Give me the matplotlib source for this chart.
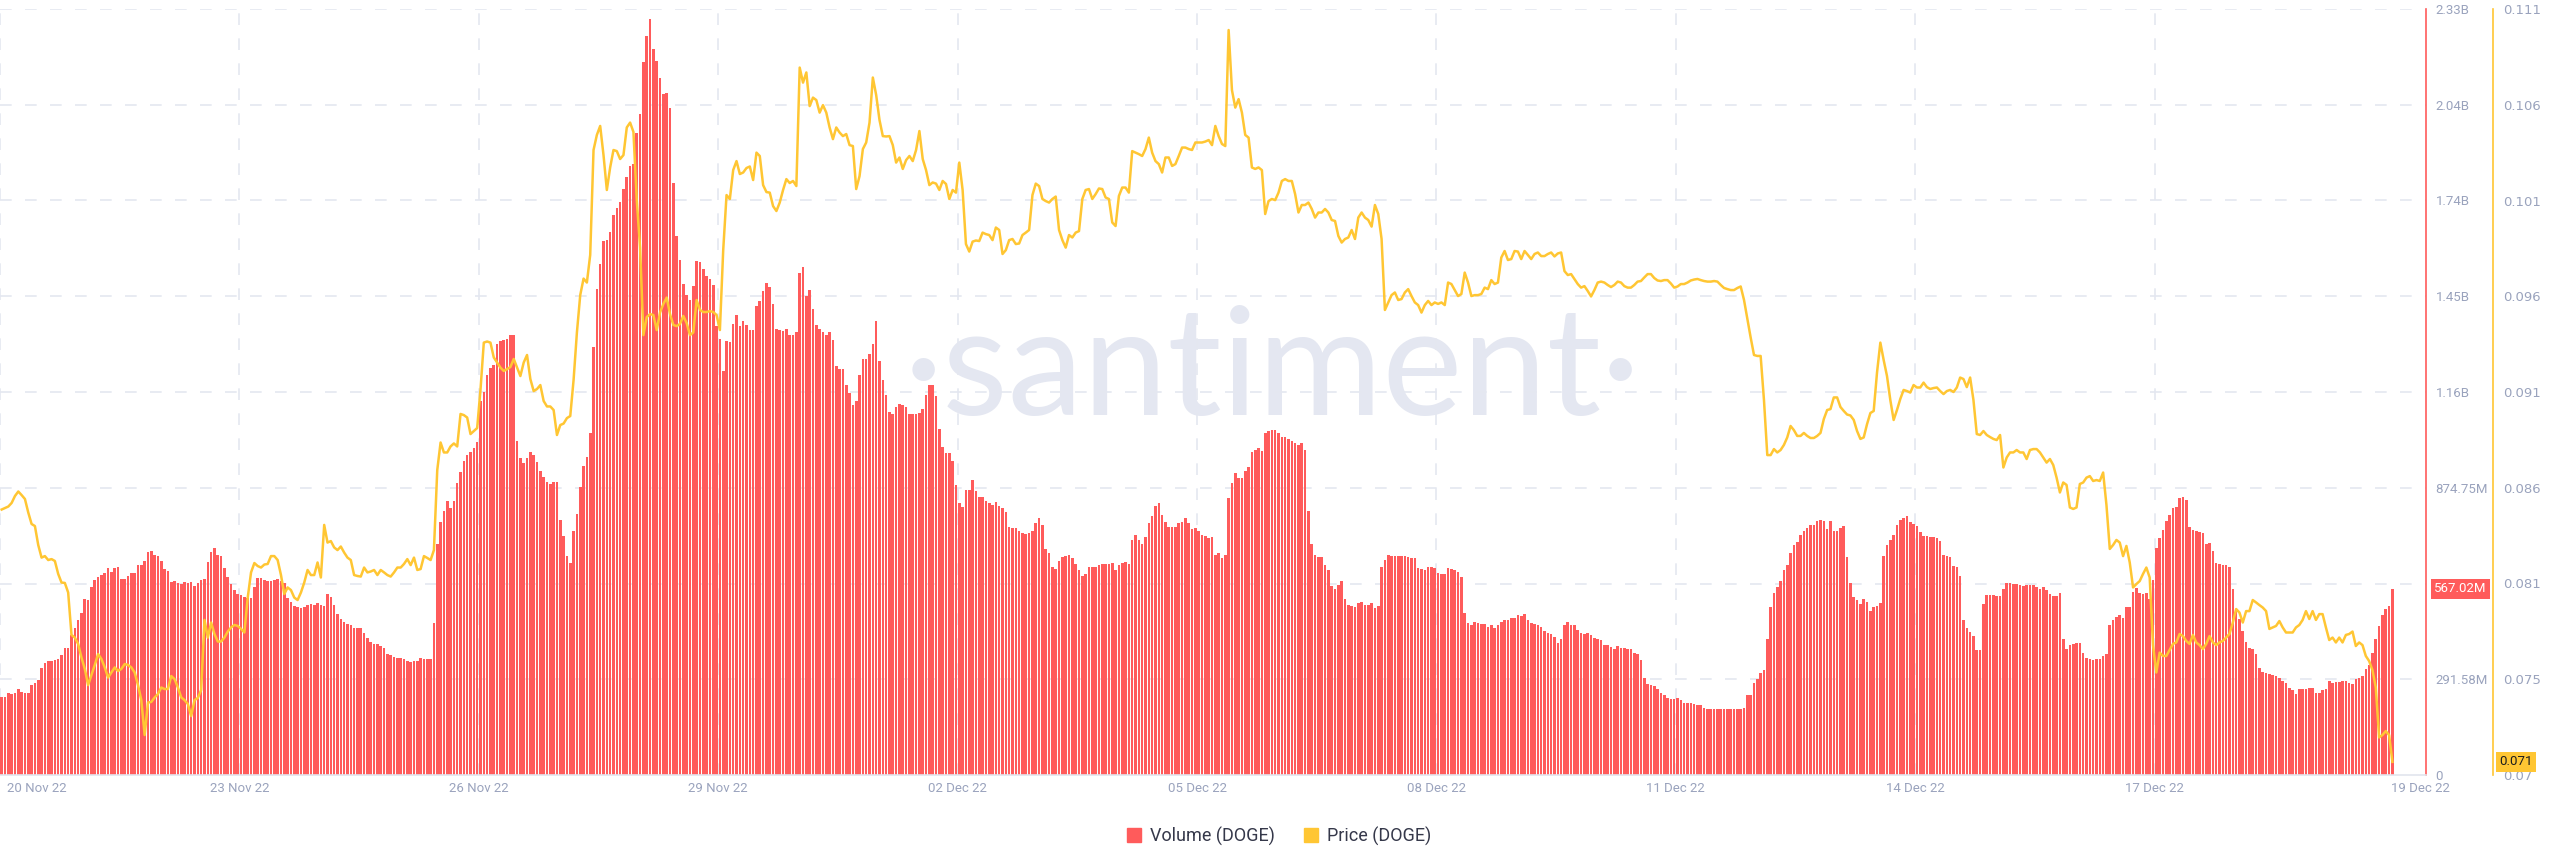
import matplotlib
matplotlib.use('Agg')

import matplotlib.pyplot as plt
import matplotlib.transforms as mtransforms
from matplotlib.patches import Patch

# hourly DOGE volume (millions) from 20 Nov 22 00:00
volume_m = [
    238, 238, 249, 246, 251, 261, 254, 251, 251, 273,
    281, 289, 327, 342, 346, 346, 349, 352, 364, 387,
    387, 425, 448, 471, 494, 535, 532, 574, 595, 604,
    610, 615, 630, 618, 630, 633, 597, 597, 607, 615,
    615, 641, 638, 653, 680, 683, 671, 668, 653, 626,
    620, 589, 592, 585, 582, 588, 585, 588, 577, 585,
    595, 597, 650, 680, 691, 671, 668, 630, 604, 582,
    562, 551, 547, 542, 539, 539, 573, 600, 600, 595,
    592, 592, 595, 597, 592, 585, 539, 528, 516, 512,
    509, 512, 519, 521, 519, 524, 519, 516, 551, 542,
    519, 489, 474, 466, 459, 456, 448, 448, 448, 433,
    418, 405, 398, 398, 392, 387, 369, 364, 360, 357,
    357, 352, 346, 345, 346, 346, 357, 352, 352, 352,
    463, 702, 770, 805, 835, 812, 835, 888, 923, 957,
    975, 983, 995, 1014, 1139, 1165, 1218, 1238, 1248, 1314,
    1321, 1324, 1329, 1339, 1339, 1018, 964, 949, 964, 984,
    975, 954, 926, 907, 891, 887, 893, 893, 778, 729,
    668, 645, 744, 794, 878, 942, 967, 1040, 1303, 1481,
    1557, 1625, 1628, 1655, 1704, 1728, 1746, 1784, 1822, 1856,
    1860, 1956, 2012, 2172, 2251, 2301, 2210, 2175, 2123, 2073,
    2077, 2032, 1804, 1640, 1567, 1496, 1461, 1446, 1488, 1564,
    1561, 1541, 1519, 1511, 1491, 1367, 1329, 1230, 1321, 1318,
    1374, 1400, 1367, 1382, 1370, 1355, 1355, 1428, 1443, 1473,
    1499, 1485, 1435, 1358, 1355, 1352, 1359, 1339, 1339, 1349,
    1529, 1546, 1458, 1476, 1420, 1370, 1359, 1349, 1339, 1349,
    1324, 1245, 1235, 1235, 1188, 1162, 1127, 1139, 1218, 1267,
    1267, 1283, 1314, 1382, 1260, 1203, 1157, 1106, 1098, 1121,
    1131, 1127, 1121, 1098, 1098, 1098, 1101, 1116, 1157, 1188,
    1188, 1154, 1055, 999, 980, 980, 957, 884, 828, 817,
    869, 869, 899, 866, 846, 846, 835, 828, 823, 831,
    820, 812, 800, 756, 752, 752, 744, 737, 734, 737,
    744, 767, 782, 762, 688, 676, 633, 627, 653, 664,
    668, 671, 661, 642, 623, 607, 612, 633, 633, 633,
    638, 642, 642, 642, 645, 623, 638, 645, 650, 642,
    717, 732, 717, 702, 726, 767, 790, 820, 828, 793,
    771, 756, 756, 756, 767, 770, 782, 767, 749, 752,
    744,
    732, 729, 721, 724, 671, 676, 661, 671, 843, 888,
    919, 904, 904, 926, 937, 984, 990, 995, 987, 1040,
    1048, 1051, 1052, 1040, 1028, 1030, 1022, 1018, 1010, 1005,
    1010, 990, 805, 702, 671, 664, 665, 638, 623, 577,
    565, 580, 592, 535, 519, 516, 513, 524, 527, 519,
    519, 524, 509, 516, 633, 656, 671, 668, 668, 668,
    668, 668, 665, 661, 661, 630, 626, 623, 633, 633,
    630, 615, 611, 612, 630, 627, 623, 618, 603, 494,
    463, 456, 466, 463, 459, 459, 451, 456, 448, 456,
    466, 471, 471, 478, 478, 486, 483, 489, 471, 463,
    459, 456, 451, 437, 433, 428, 421, 402, 413, 456,
    466, 456, 456, 443, 433, 428, 433, 425, 418, 413,
    410, 395, 395, 390, 384, 392, 387, 387, 383, 383,
    372, 368, 349, 296, 278, 273, 270, 261, 251, 243,
    235, 231, 232, 235, 228, 220, 220, 220, 216, 213,
    213, 205, 202, 202, 202, 200, 200, 202, 202, 200,
    202, 200, 200, 205, 243, 243, 281, 292, 311, 319,
    413, 513, 554, 574, 592, 623, 641, 676, 699, 709,
    732, 744, 752, 762, 762, 774, 778, 774, 749, 774,
    744, 744, 752, 759, 665, 585, 542, 532, 521, 535,
    527, 498, 513, 516, 524, 668, 699, 717, 732, 762,
    778, 782, 790, 771, 764, 759, 741, 729, 729, 726,
    724, 721, 714, 671, 668, 665, 635, 633, 607, 471,
    448, 436, 422, 380, 380, 521, 547, 547, 547, 544,
    544, 565, 585, 585, 582, 582, 580, 577, 580, 580,
    580, 574, 565, 574, 562, 551, 544, 544, 554, 413,
    383, 395, 399, 402, 402, 372, 357, 352, 349, 352,
    352, 361, 369, 456, 471, 481, 486, 478, 512, 513,
    557, 570, 554, 551, 554, 535, 595, 691, 721, 747,
    775, 793, 813, 817, 843, 846, 838, 756, 747, 744,
    741, 737, 702, 706, 683, 645, 642, 638, 638, 633,
    565, 501, 474, 437, 406, 387, 383, 368, 327, 314,
    311, 307, 304, 301, 296, 286, 281, 266, 258, 248,
    261, 263, 263, 266, 266, 251, 251, 258, 263, 286,
    281, 284, 284, 286, 286, 281, 276, 292, 296, 301,
    322, 334, 372, 413, 453, 486, 504, 516, 567,
]

# hourly DOGE price (USD)
price = [
    0.08444, 0.08452, 0.08460, 0.08479, 0.08516, 0.08540, 0.08521, 0.08500, 0.08428, 0.08367,
    0.08356, 0.08255, 0.08188, 0.08196, 0.08175, 0.08180, 0.08170, 0.08101, 0.08055, 0.08053,
    0.08002, 0.07776, 0.07762, 0.07728, 0.07656, 0.07595, 0.07509, 0.07563, 0.07616, 0.07674,
    0.07648, 0.07603, 0.07549, 0.07576, 0.07603, 0.07584, 0.07595, 0.07621, 0.07616, 0.07603,
    0.07576, 0.07509, 0.07429, 0.07243, 0.07416, 0.07419, 0.07443, 0.07461, 0.07496, 0.07488,
    0.07488, 0.07557, 0.07541, 0.07496, 0.07443, 0.07429, 0.07408, 0.07344, 0.07429, 0.07440,
    0.07483, 0.07856, 0.07762, 0.07842, 0.07781, 0.07741, 0.07741, 0.07762, 0.07794, 0.07816,
    0.07829, 0.07824, 0.07808, 0.07789, 0.07975, 0.08109, 0.08159, 0.08143, 0.08135, 0.08151,
    0.08154, 0.08196, 0.08196, 0.08175, 0.08095, 0.07994, 0.08029, 0.08015, 0.07975, 0.07962,
    0.08002, 0.08055, 0.08122, 0.08095, 0.08095, 0.08162, 0.08082, 0.08362, 0.08268, 0.08276,
    0.08242, 0.08228, 0.08247, 0.08215, 0.08188, 0.08175, 0.08095, 0.08090, 0.08087, 0.08135,
    0.08109, 0.08114, 0.08122, 0.08095, 0.08122, 0.08109, 0.08095, 0.08087, 0.08109, 0.08135,
    0.08135, 0.08154, 0.08180, 0.08148, 0.08188, 0.08122, 0.08127, 0.08196, 0.08186, 0.08175,
    0.08228, 0.08654, 0.08801, 0.08748, 0.08748, 0.08780, 0.08796, 0.08780, 0.08953, 0.08947,
    0.08934, 0.08846, 0.08862, 0.08878, 0.09081, 0.09333, 0.09339, 0.09333, 0.09254, 0.09227,
    0.09200, 0.09182, 0.09192, 0.09203, 0.09246, 0.09200, 0.09155, 0.09227, 0.09267, 0.09139,
    0.09075, 0.09086, 0.09107, 0.09022, 0.08993, 0.08993, 0.08974, 0.08841, 0.08894, 0.08902,
    0.08931, 0.08942, 0.09134, 0.09387, 0.09586, 0.09674, 0.09653, 0.09800, 0.10359, 0.10439,
    0.10487, 0.10332, 0.10146, 0.10266, 0.10359, 0.10353, 0.10311, 0.10332, 0.10479, 0.10505,
    0.10455, 0.10092, 0.09839, 0.09373, 0.09469, 0.09485, 0.09480, 0.09400, 0.09493, 0.09539,
    0.09573, 0.09485, 0.09427, 0.09421, 0.09432, 0.09475, 0.09437, 0.09373, 0.09387, 0.09560,
    0.09507, 0.09496, 0.09496, 0.09501, 0.09496, 0.09480, 0.09400, 0.09826, 0.10119, 0.10098,
    0.10252, 0.10300, 0.10231, 0.10239, 0.10263, 0.10271, 0.10199, 0.10345, 0.10327, 0.10172,
    0.10135, 0.10132, 0.10060, 0.10034, 0.10079, 0.10146, 0.10204, 0.10183, 0.10194, 0.10167,
    0.10798, 0.10718, 0.10772, 0.10593, 0.10638, 0.10625, 0.10558, 0.10598, 0.10558, 0.10479,
    0.10417, 0.10479, 0.10452, 0.10433, 0.10444, 0.10385, 0.10380, 0.10151, 0.10220, 0.10364,
    0.10399, 0.10505, 0.10745, 0.10652, 0.10519, 0.10433, 0.10431, 0.10433, 0.10385, 0.10292,
    0.10319, 0.10258, 0.10305, 0.10327, 0.10300, 0.10359, 0.10460, 0.10311, 0.10252, 0.10172,
    0.10186, 0.10180, 0.10146, 0.10194, 0.10178, 0.10098, 0.10146, 0.10132, 0.10292, 0.10146,
    0.09858, 0.09818, 0.09871, 0.09877, 0.09874, 0.09919, 0.09911, 0.09906, 0.09879, 0.09946,
    0.09933, 0.09805, 0.09826, 0.09879, 0.09885, 0.09858, 0.09861, 0.09906, 0.09919, 0.09933,
    0.10119, 0.10180, 0.10167, 0.10098, 0.10087, 0.10079, 0.10098, 0.10111, 0.09933, 0.09879,
    0.09839, 0.09906, 0.09893, 0.09919, 0.09927, 0.10098, 0.10146, 0.10151, 0.10098, 0.10124,
    0.10154, 0.10151, 0.10106, 0.10098, 0.09973, 0.09954, 0.10114, 0.10159, 0.10159, 0.10132,
    0.10353, 0.10345, 0.10337, 0.10327, 0.10364, 0.10425, 0.10345, 0.10300, 0.10284, 0.10239,
    0.10319, 0.10319, 0.10274, 0.10284, 0.10327, 0.10372, 0.10372, 0.10364, 0.10359, 0.10399,
    0.10399,
    0.10399, 0.10404, 0.10412, 0.10385, 0.10487, 0.10433, 0.10391, 0.10380, 0.10998, 0.10678,
    0.10585, 0.10630, 0.10558, 0.10439, 0.10425, 0.10266, 0.10258, 0.10266, 0.10252, 0.10018,
    0.10087, 0.10098, 0.10092, 0.10132, 0.10194, 0.10204, 0.10194, 0.10194, 0.10124, 0.10026,
    0.10066, 0.10066, 0.10079, 0.10045, 0.09999, 0.10026, 0.10026, 0.10045, 0.10026, 0.09986,
    0.09981, 0.09901, 0.09866, 0.09885, 0.09893, 0.09933, 0.09885, 0.09999, 0.10026, 0.09999,
    0.09986, 0.09951, 0.10066, 0.10018, 0.09885, 0.09507, 0.09547, 0.09586, 0.09600, 0.09560,
    0.09565, 0.09600, 0.09618, 0.09581, 0.09547, 0.09533, 0.09493, 0.09533, 0.09555, 0.09533,
    0.09547, 0.09539, 0.09547, 0.09533, 0.09653, 0.09645, 0.09613, 0.09581, 0.09592, 0.09706,
    0.09653, 0.09581, 0.09586, 0.09586, 0.09592, 0.09626, 0.09618, 0.09666, 0.09645, 0.09653,
    0.09786, 0.09821, 0.09773, 0.09778, 0.09821, 0.09818, 0.09778, 0.09821, 0.09800, 0.09778,
    0.09805, 0.09813, 0.09794, 0.09794, 0.09805, 0.09813, 0.09792, 0.09808, 0.09813, 0.09714,
    0.09693, 0.09698, 0.09672, 0.09645, 0.09626, 0.09634, 0.09608, 0.09579, 0.09613, 0.09653,
    0.09658, 0.09653, 0.09640, 0.09629, 0.09640, 0.09658, 0.09653, 0.09634, 0.09626, 0.09626,
    0.09640, 0.09658, 0.09661, 0.09680, 0.09698, 0.09698, 0.09677, 0.09664, 0.09661, 0.09666,
    0.09666, 0.09648, 0.09626, 0.09632, 0.09645, 0.09645, 0.09653, 0.09664, 0.09669, 0.09672,
    0.09666, 0.09661, 0.09658, 0.09658, 0.09661, 0.09658, 0.09640, 0.09624, 0.09618, 0.09613,
    0.09613, 0.09624, 0.09632, 0.09560, 0.09459, 0.09360, 0.09267, 0.09262, 0.09262, 0.09027,
    0.08734, 0.08734, 0.08766, 0.08748, 0.08761, 0.08788, 0.08828, 0.08889, 0.08867, 0.08836,
    0.08836, 0.08852, 0.08836, 0.08825, 0.08825, 0.08836, 0.08852, 0.08926, 0.08974, 0.08979,
    0.09041, 0.09041, 0.08990, 0.08969, 0.08950, 0.08945, 0.08921, 0.08862, 0.08820, 0.08828,
    0.08899, 0.08958, 0.08969, 0.09174, 0.09333, 0.09240, 0.09155, 0.09027, 0.08921, 0.08974,
    0.09033, 0.09081, 0.09075, 0.09067, 0.09107, 0.09094, 0.09094, 0.09120, 0.09096, 0.09086,
    0.09091, 0.09094, 0.09075, 0.09059, 0.09075, 0.09081, 0.09070, 0.09094, 0.09147, 0.09139,
    0.09096, 0.09147, 0.09027, 0.08846, 0.08841, 0.08862, 0.08841, 0.08830, 0.08820, 0.08814,
    0.08841, 0.08668, 0.08721, 0.08748, 0.08748, 0.08761, 0.08748, 0.08748, 0.08713, 0.08761,
    0.08766, 0.08766, 0.08748, 0.08721, 0.08694, 0.08713, 0.08681, 0.08614, 0.08535, 0.08588,
    0.08575, 0.08455, 0.08447, 0.08455, 0.08580, 0.08588, 0.08614, 0.08622, 0.08596, 0.08601,
    0.08596, 0.08641, 0.08468, 0.08234, 0.08255, 0.08282, 0.08268, 0.08196, 0.08250, 0.08162,
    0.08029, 0.08047, 0.08063, 0.08101, 0.08135, 0.08082, 0.07722, 0.07576, 0.07682, 0.07664,
    0.07664, 0.07696, 0.07728, 0.07736, 0.07781, 0.07770, 0.07744, 0.07728, 0.07776, 0.07736,
    0.07722, 0.07701, 0.07728, 0.07770, 0.07736, 0.07722, 0.07736, 0.07744, 0.07762, 0.07781,
    0.07842, 0.07914, 0.07895, 0.07842, 0.07903, 0.07903, 0.07962, 0.07949, 0.07935, 0.07922,
    0.07903, 0.07808, 0.07816, 0.07824, 0.07850, 0.07816, 0.07789, 0.07789, 0.07789, 0.07816,
    0.07829, 0.07856, 0.07903, 0.07861, 0.07903, 0.07856, 0.07887, 0.07887, 0.07816, 0.07749,
    0.07762, 0.07736, 0.07762, 0.07736, 0.07776, 0.07781, 0.07794, 0.07717, 0.07736, 0.07722,
    0.07664, 0.07637, 0.07589, 0.07496, 0.07230, 0.07243, 0.07264, 0.07243, 0.07100,
]

date_labels = ['20 Nov 22', '23 Nov 22', '26 Nov 22', '29 Nov 22', '02 Dec 22', '05 Dec 22',
               '08 Dec 22', '11 Dec 22', '14 Dec 22', '17 Dec 22', '19 Dec 22']
vol_ticks = [0, 291.58, 583.16, 874.75, 1166.33, 1457.91, 1749.49, 2041.07, 2332.65]
vol_labels = ['0', '291.58M', '', '874.75M', '1.16B', '1.45B', '1.74B', '2.04B', '2.33B']
price_ticks = [0.0703, 0.0754, 0.0805, 0.0856, 0.0907, 0.0958, 0.1009, 0.1060, 0.1111]
price_labels = ['0.07', '0.075', '0.081', '0.086', '0.091', '0.096', '0.101', '0.106', '0.111']
last_volume = 567.02
last_price = 0.071

RED = '#ff5b5b'
YELLOW = '#ffc633'
GRID = '#e4e7f0'
LABEL = '#9aa3bd'
FONT = 'Roboto'

W, H = 2560, 867
fig = plt.figure(figsize=(W / 100, H / 100), dpi=100)
fig.patch.set_facecolor('white')

# watermark behind everything
fig.text(1272 / W, (H - 372) / H, '\u00b7santiment\u00b7', ha='center', va='center',
         fontsize=109, color='#e4e7f1', family='Lato', weight='normal', zorder=-5)

ax = fig.add_axes([0, (H - 775) / H, 2426 / W, 766 / H])
ax.set_facecolor('none')

hours = [i + 0.5 for i in range(len(volume_m))]
ax.bar(hours, volume_m, width=0.78, color=RED, linewidth=0, zorder=2)
ax.set_xlim(0, 729.6)
ax.set_ylim(0, vol_ticks[-1])

# dashed grid
for v in vol_ticks[1:]:
    ax.axhline(v, color=GRID, lw=1.2, ls=(0, (7, 8)), zorder=0)
for d in range(0, 649, 72):
    ax.axvline(d, color=GRID, lw=1.2, ls=(0, (7, 8)), zorder=0)

# x labels: first hugs the left edge, last sits at the right end
xt = [2.0] + list(range(72, 649, 72)) + [727.8]
ax.set_xticks(xt)
ax.set_xticklabels(date_labels, fontsize=9.5, color=LABEL, family=FONT)
ax.get_xticklabels()[0].set_ha('left')
ax.tick_params(axis='x', length=0, pad=5)

for s in ['left', 'top']:
    ax.spines[s].set_visible(False)
ax.spines['right'].set_color(RED)
ax.spines['right'].set_linewidth(1.2)
ax.spines['bottom'].set_color('#e2e5ee')
ax.spines['bottom'].set_linewidth(1.2)

# price on a second right axis
ax2 = ax.twinx()
ax2.plot(hours, price, color=YELLOW, lw=1.8, zorder=3, solid_joinstyle='round')
ax2.set_ylim(price_ticks[0], price_ticks[-1])
ax2.set_yticks(price_ticks)
ax2.set_yticklabels(price_labels)
ax2.tick_params(axis='y', length=0, pad=7, labelcolor=LABEL, labelsize=9.5)
for t in ax2.get_yticklabels(which='both'):
    t.set_family(FONT)
ax2.spines['right'].set_position(('outward', 67 * 0.72))
ax2.spines['right'].set_color(YELLOW)
ax2.spines['right'].set_linewidth(1.2)
for s in ['left', 'top', 'bottom']:
    ax2.spines[s].set_visible(False)

# twinx moved the volume ticks to the left, put them back on the right
ax.yaxis.tick_right()
ax.set_yticks(vol_ticks)
ax.set_yticklabels(vol_labels)
ax.tick_params(axis='y', which='both', left=False, right=True, labelleft=False,
               labelright=True, length=0, pad=7, labelcolor=LABEL, labelsize=9.5)
for t in ax.get_yticklabels(which='both'):
    t.set_family(FONT)
ax.spines['left'].set_visible(False)

blend = mtransforms.blended_transform_factory(ax.transAxes, ax.transData)
ax.text(1 + 8 / 2426, last_volume, '567.02M', transform=blend, ha='left', va='center',
        fontsize=9.5, color='white', family=FONT, zorder=6,
        bbox=dict(boxstyle='square,pad=0.25', fc=RED, ec='none'))

blend2 = mtransforms.blended_transform_factory(ax2.transAxes, ax2.transData)
ax2.text(1 + 73 / 2426, last_price, '0.071', transform=blend2, ha='left', va='center',
         fontsize=9.5, color='#1d1d1d', family=FONT, zorder=6,
         bbox=dict(boxstyle='square,pad=0.25', fc=YELLOW, ec='none'))

handles = [Patch(color=RED, label='Volume (DOGE)'), Patch(color=YELLOW, label='Price (DOGE)')]
leg = fig.legend(handles=handles, loc='center', bbox_to_anchor=(1279 / W, (H - 836) / H),
                 ncol=2, frameon=False, handlelength=0.8, handleheight=0.8,
                 handletextpad=0.5, columnspacing=1.6,
                 prop={'family': FONT, 'size': 13})
for t in leg.get_texts():
    t.set_color('#35384a')

fig.savefig('out.png', dpi=100, facecolor='white')
